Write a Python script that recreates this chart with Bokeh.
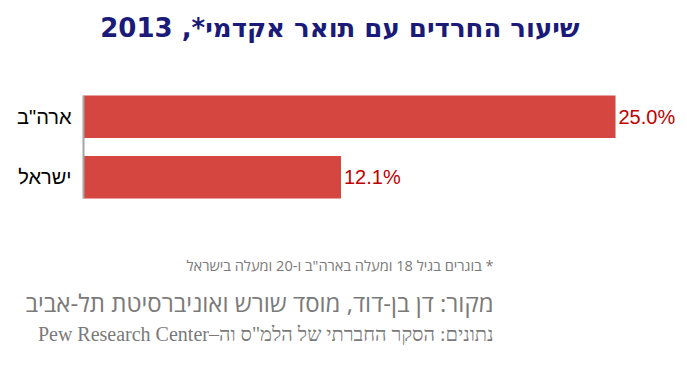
from bokeh.plotting import figure
from bokeh.models import Range1d, FixedTicker, ColumnDataSource, LabelSet, Label
from bokeh.core.properties import value
from bokeh.embed import file_html
from bokeh.resources import INLINE

RLE, PDF = "\u202b", "\u202c"

categories = ['ארה"ב', 'ישראל']
values = [25.0, 12.1]
value_labels = ["25.0%", "12.1%"]
title_text = 'שיעור החרדים עם תואר אקדמי*, 2013'
note_text = '* בוגרים בגיל 18 ומעלה בארה"ב ו-20 ומעלה בישראל'
source_text = 'מקור: דן בן-דוד, מוסד שורש ואוניברסיטת תל-אביב'
data_text = 'נתונים: הסקר החברתי של הלמ"ס וה–Pew Research Center'

ys = [len(categories) - 1 - i for i in range(len(categories))]

# frame spans the whole canvas; axis placed at x=0 inside it
p = figure(width=687, height=366, output_backend="svg", toolbar_location=None,
           x_range=Range1d(-3.900, 28.383), y_range=Range1d(-3.122, 2.918),
           min_border=0, min_border_left=0, min_border_right=0, min_border_top=0, min_border_bottom=0)
p.outline_line_color = None
p.grid.visible = False
p.xaxis.visible = False
p.background_fill_color = "white"
p.border_fill_color = "white"

src = ColumnDataSource(dict(y=ys, v=values, lab=value_labels, cat=categories))
p.hbar(y="y", right="v", left=0, height=0.7, source=src, fill_color="#d4463f", line_color=None)

yax = p.yaxis[0]
yax.fixed_location = 0
yax.bounds = (-0.35, 1.35)
yax.ticker = FixedTicker(ticks=ys)
yax.major_label_overrides = {y: c for y, c in zip(ys, categories)}
yax.major_tick_line_color = None
yax.minor_tick_line_color = None
yax.axis_line_color = "#a6a6a6"
yax.axis_line_width = 2
yax.major_label_text_font = "Liberation Sans"
yax.major_label_text_font_size = "20px"
yax.major_label_text_color = "#000000"
yax.major_label_standoff = 6

p.add_layout(LabelSet(x="v", y="y", text="lab", source=src, x_offset=3, text_baseline="middle",
                      text_font=value("Liberation Sans"), text_font_size=value("20px"),
                      text_color=value("#c00000")))

p.add_layout(Label(x=12.05, y=2.456, text=RLE + title_text + PDF, text_align="center", text_baseline="middle",
                   text_font="DejaVu Sans", text_font_style="bold", text_font_size="26px",
                   text_color="#1a1a78"))
p.add_layout(Label(x=19.27, y=-1.455, text=RLE + note_text + PDF, text_align="right", text_baseline="middle",
                   text_font="Open Sans", text_font_size="14.6px", text_color="#7a7a7a"))
p.add_layout(Label(x=19.27, y=-2.07, text=RLE + source_text + PDF, text_align="right", text_baseline="middle",
                   text_font="Open Sans", text_font_size="24px", text_color="#7a7a7a"))
p.add_layout(Label(x=19.27, y=-2.58, text=RLE + data_text + PDF, text_align="right", text_baseline="middle",
                   text_font="Liberation Serif", text_font_size="20px", text_color="#7a7a7a"))

open("out.html", "w").write(file_html(p, INLINE))
